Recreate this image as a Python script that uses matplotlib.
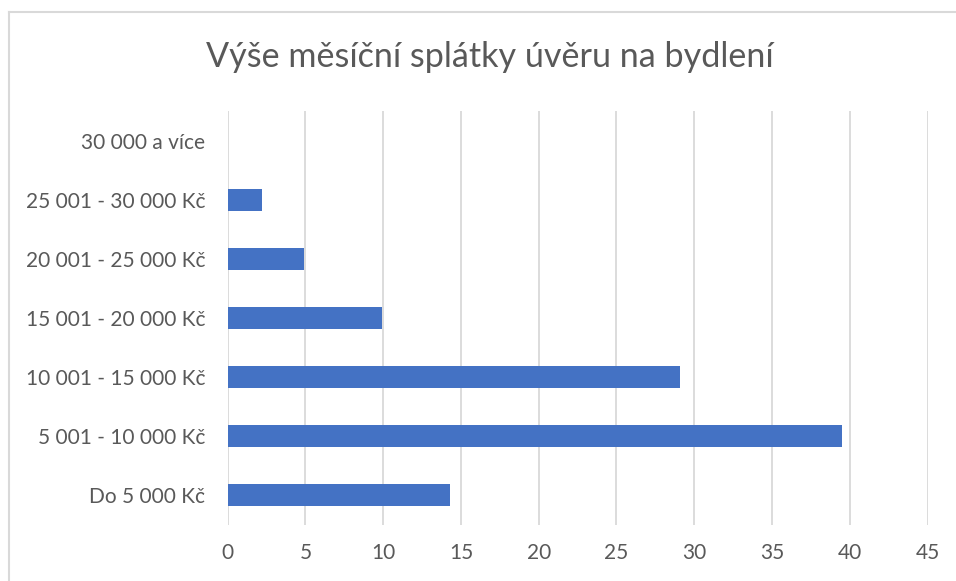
import matplotlib
matplotlib.use("Agg")
import matplotlib.pyplot as plt
from matplotlib.lines import Line2D

# data (bottom -> top)
categories = ["Do 5 000 Kč", "5 001 - 10 000 Kč", "10 001 - 15 000 Kč",
              "15 001 - 20 000 Kč", "20 001 - 25 000 Kč", "25 001 - 30 000 Kč",
              "30 000 a více"]
values = [14.3, 39.5, 29.1, 9.9, 4.9, 2.2, 0.0]
x_ticks = [0, 5, 10, 15, 20, 25, 30, 35, 40, 45]

TITLE = "Výše měsíční splátky úvěru na bydlení"
BAR_COLOR = "#4472C4"
TEXT_COLOR = "#595959"
GRID_COLOR = "#D9D9D9"

plt.rcParams["font.family"] = ["Lato", "DejaVu Sans"]

fig = plt.figure(figsize=(9.56, 5.81), dpi=100)
ax = fig.add_axes([0.2382, 0.0972, 0.9702 - 0.2382, 0.8081 - 0.0972])

y = range(len(categories))
ax.barh(y, values, height=0.36, color=BAR_COLOR, linewidth=0, zorder=3)

ax.set_xlim(0, 45)
ax.set_ylim(-0.5, len(categories) - 0.5)
ax.set_xticks(x_ticks)
ax.set_xticklabels([str(t) for t in x_ticks])
ax.set_yticks(list(y))
ax.set_yticklabels(categories)

ax.grid(axis="x", color=GRID_COLOR, linewidth=1.3, zorder=0)
ax.tick_params(axis="both", length=0, labelsize=15, colors=TEXT_COLOR)
ax.tick_params(axis="x", pad=13)
ax.tick_params(axis="y", pad=16)
for s in ax.spines.values():
    s.set_visible(False)

fig.text(0.5125, 1 - 57 / 581, TITLE, ha="center", va="center",
         fontsize=24.6, color=TEXT_COLOR)

# chart border (cropped)
fig.add_artist(Line2D([9 / 956, 9 / 956], [0, 1 - 12 / 581],
                      transform=fig.transFigure, color=GRID_COLOR, linewidth=1.5))
fig.add_artist(Line2D([9 / 956, 1], [1 - 12 / 581, 1 - 12 / 581],
                      transform=fig.transFigure, color=GRID_COLOR, linewidth=1.5))

fig.savefig("out.png", dpi=100)
